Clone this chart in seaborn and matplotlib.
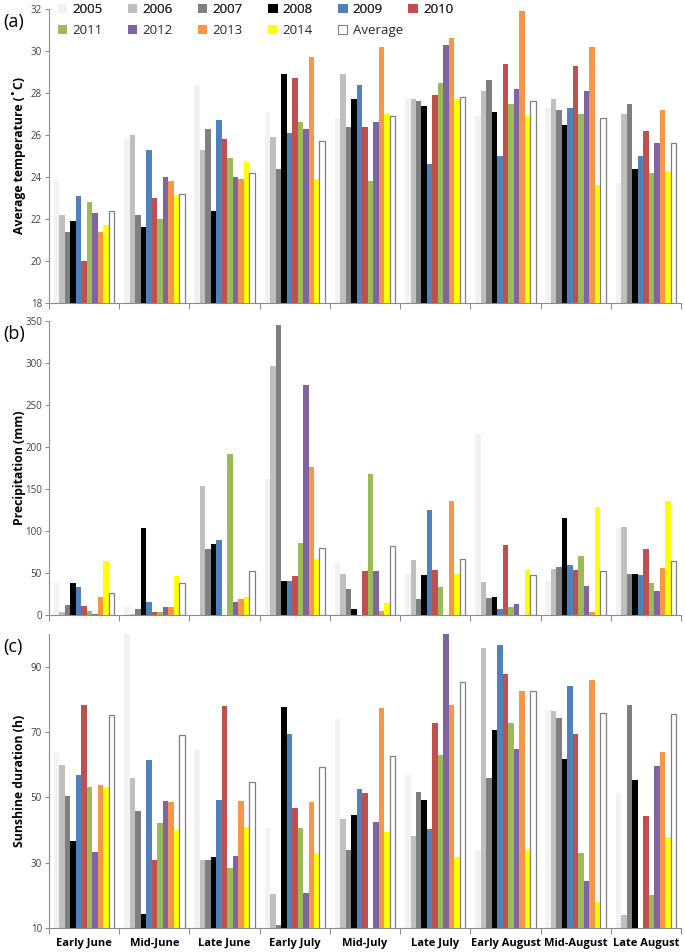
import numpy as np
import pandas as pd
import matplotlib
matplotlib.use("Agg")
import matplotlib.pyplot as plt
import seaborn as sns
from matplotlib.patches import Patch

periods = ["Early June", "Mid-June", "Late June", "Early July", "Mid-July",
           "Late July", "Early August", "Mid-August", "Late August"]
years = ["2005", "2006", "2007", "2008", "2009", "2010", "2011", "2012",
         "2013", "2014", "Average"]

temp_2005 = [23.8, 25.8, 28.4, 27.1, 26.8, 27.7, 26.9, 27.3, 23.7]
temp_2006 = [22.2, 26.0, 25.3, 25.9, 28.9, 27.7, 28.1, 27.7, 27.0]
temp_2007 = [21.4, 22.2, 26.3, 24.4, 26.4, 27.6, 28.6, 27.2, 27.5]
temp_2008 = [21.9, 21.6, 22.4, 28.9, 27.7, 27.4, 27.1, 26.5, 24.4]
temp_2009 = [23.1, 25.3, 26.7, 26.1, 28.4, 24.6, 25.0, 27.3, 25.0]
temp_2010 = [20.0, 23.0, 25.8, 28.7, 26.4, 27.9, 29.4, 29.3, 26.2]
temp_2011 = [22.8, 22.0, 24.9, 26.6, 23.8, 28.5, 27.5, 27.0, 24.2]
temp_2012 = [22.3, 24.0, 24.0, 26.3, 26.6, 30.3, 28.2, 28.1, 25.6]
temp_2013 = [21.4, 23.8, 23.9, 29.7, 30.2, 30.6, 31.9, 30.2, 27.2]
temp_2014 = [21.7, 23.1, 24.7, 23.9, 27.0, 27.7, 26.9, 23.6, 24.3]
temp_avg = [22.4, 23.2, 24.2, 25.7, 26.9, 27.8, 27.6, 26.8, 25.6]

prec_2005 = [38, 10, 0, 162, 62, 49, 216, 40, 103]
prec_2006 = [3, 1, 154, 297, 49, 66, 39, 55, 105]
prec_2007 = [12, 7, 79, 345, 31, 19, 20, 57, 49]
prec_2008 = [38, 104, 84, 41, 7, 48, 22, 116, 49]
prec_2009 = [33, 15, 89, 40, 0, 125, 7, 59, 48]
prec_2010 = [11, 4, 0, 47, 52, 53, 83, 54, 78]
prec_2011 = [5, 3, 192, 86, 168, 33, 10, 70, 38]
prec_2012 = [1, 9, 16, 274, 52, 0, 13, 35, 28]
prec_2013 = [22, 9, 19, 176, 5, 136, 0, 3, 56]
prec_2014 = [64, 46, 22, 67, 14, 49, 53, 129, 136]
prec_avg = [26, 38, 52, 80, 82, 67, 48, 52, 64]

sun_2005 = [63.6, 99.9, 64.4, 40.7, 74.0, 56.8, 33.7, 76.6, 51.3]
sun_2006 = [59.9, 55.9, 30.8, 20.3, 43.3, 38.3, 95.6, 76.3, 13.9]
sun_2007 = [50.5, 45.8, 30.8, 11.0, 33.8, 51.6, 55.9, 74.3, 78.2]
sun_2008 = [36.5, 14.2, 31.6, 77.7, 44.5, 49.3, 70.6, 61.7, 55.3]
sun_2009 = [56.8, 61.3, 49.1, 69.3, 52.6, 40.2, 96.6, 84.2, np.nan]
sun_2010 = [78.2, 30.9, 78.1, 46.7, 51.4, 72.7, 87.8, 69.4, 44.4]
sun_2011 = [53.1, 42.0, 28.4, 40.7, np.nan, 63.0, 72.7, 33.1, 20.0]
sun_2012 = [33.4, 49.0, 31.9, 20.6, 42.3, 99.9, 64.9, 24.3, 59.7]
sun_2013 = [53.9, 48.5, 48.9, 48.6, 77.2, 78.3, 82.7, 85.8, 63.9]
sun_2014 = [53.3, 39.9, 40.8, 33.1, 39.4, 31.8, 34.0, 18.0, 37.9]
sun_avg = [75.2, 69.0, 54.7, 59.4, 62.8, 85.3, 82.4, 75.7, 75.5]

temp_series = [temp_2005, temp_2006, temp_2007, temp_2008, temp_2009, temp_2010,
               temp_2011, temp_2012, temp_2013, temp_2014, temp_avg]
prec_series = [prec_2005, prec_2006, prec_2007, prec_2008, prec_2009, prec_2010,
               prec_2011, prec_2012, prec_2013, prec_2014, prec_avg]
sun_series = [sun_2005, sun_2006, sun_2007, sun_2008, sun_2009, sun_2010,
              sun_2011, sun_2012, sun_2013, sun_2014, sun_avg]

colors = ["#f2f2f2", "#bfbfbf", "#7f7f7f", "#000000", "#4f81bd", "#c0504d",
          "#9bbb59", "#8064a2", "#f79646", "#ffff00", "#ffffff"]
palette = dict(zip(years, colors))


def to_df(series):
    rows = []
    for y, vals in zip(years, series):
        for p, v in zip(periods, vals):
            rows.append({"period": p, "year": y, "value": v})
    return pd.DataFrame(rows)


sns.set_theme(style="white")
plt.rcParams["font.family"] = ["Open Sans", "DejaVu Sans"]

fig = plt.figure(figsize=(6.85, 9.52), dpi=100)
W, H = 685, 952


def axes_px(left, top, right, bottom):
    return fig.add_axes([left / W, 1 - bottom / H, (right - left) / W, (bottom - top) / H])


ax_a = axes_px(49, 9, 681, 303)
ax_b = axes_px(49, 321, 681, 615)
ax_c = axes_px(49, 634, 681, 928)

specs = [
    (ax_a, temp_series, "Average temperature (\u02daC)", (18, 32), np.arange(18, 33, 2), "(a)"),
    (ax_b, prec_series, "Precipitation (mm)", (0, 350), np.arange(0, 351, 50), "(b)"),
    (ax_c, sun_series, "Sunshine duration (h)", (10, 100), np.arange(10, 91, 20), "(c)"),
]

tick_col = "#404040"
spine_col = "#8c8c8c"

for i, (ax, series, ylabel, ylim, yticks, tag) in enumerate(specs):
    df = to_df(series)
    sns.barplot(data=df, x="period", y="value", hue="year", order=periods,
                hue_order=years, palette=palette, width=0.86, ax=ax,
                saturation=1, legend=False, errorbar=None, linewidth=0)
    avg_container = ax.containers[-1]
    for bar in avg_container:
        bar.set_edgecolor("#7f7f7f")
        bar.set_linewidth(0.9)
    ax.set_xlim(-0.5, 8.5)
    ax.set_ylim(*ylim)
    ax.set_yticks(yticks)
    ax.set_xlabel("")
    ax.set_ylabel(ylabel, fontsize=8.8, fontweight="bold", color="#000000")
    for s in ["top", "right"]:
        ax.spines[s].set_visible(False)
    for s in ["left", "bottom"]:
        ax.spines[s].set_color(spine_col)
        ax.spines[s].set_linewidth(0.8)
    ax.tick_params(axis="y", which="major", length=3, width=0.8, color=spine_col,
                   labelsize=7, labelcolor=tick_col, direction="out", left=True, pad=2)
    ax.set_xticks(np.arange(-0.5, 9.0, 1.0), minor=True)
    ax.tick_params(axis="x", which="minor", length=4, width=0.8, color=spine_col,
                   direction="out", bottom=True)
    ax.tick_params(axis="x", which="major", length=0, pad=7)
    if i < 2:
        ax.set_xticklabels([])
    else:
        ax.set_xticklabels(periods, fontsize=8, fontweight="bold", color="#000000")
    pos = ax.get_position()
    fig.text(3 / W, pos.y1 - 4 / H, tag, fontsize=13, va="top", ha="left", color="#000000")
    ax.yaxis.set_label_coords(-0.036, 0.5)

handles = []
for y in years:
    if y == "Average":
        handles.append(Patch(facecolor="#ffffff", edgecolor="#7f7f7f", linewidth=0.8, label=y))
    else:
        handles.append(Patch(facecolor=palette[y], edgecolor="none", label=y))

leg_kw = dict(loc="upper left", frameon=False, fontsize=9.5, handlelength=0.7,
              handleheight=0.7, handletextpad=0.4, columnspacing=1.92,
              borderaxespad=0, borderpad=0)
leg1 = fig.legend(handles[:6], years[:6], ncol=6,
                  bbox_to_anchor=(58 / W, 1 - 3 / H), **leg_kw)
fig.add_artist(leg1)
leg2 = fig.legend(handles[6:], years[6:], ncol=5,
                  bbox_to_anchor=(58 / W, 1 - 24 / H), **leg_kw)

fig.savefig("out.png", dpi=100)
